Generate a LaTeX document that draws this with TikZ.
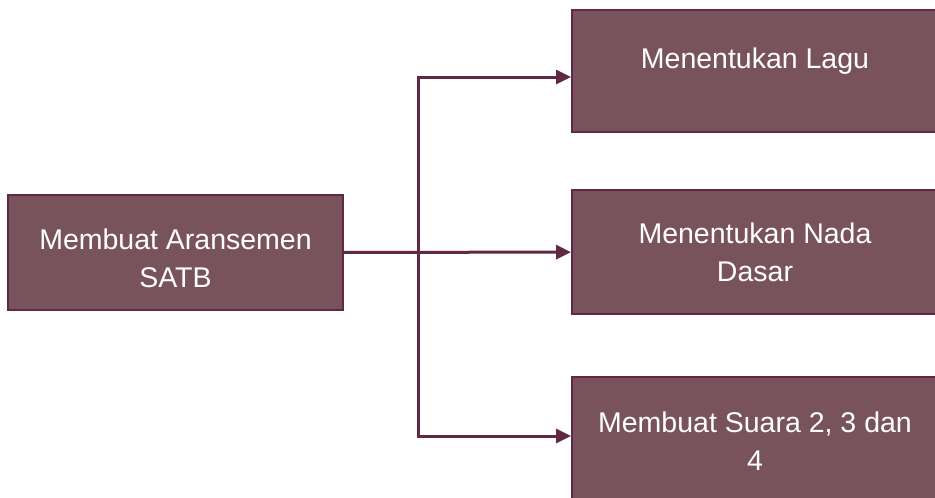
\documentclass[tikz,border=0pt]{standalone}
\usepackage{fontspec}
\setmainfont{Liberation Sans}
\usetikzlibrary{arrows.meta,positioning}
\definecolor{dfplum}{RGB}{96,40,66}
\definecolor{dfmauve}{RGB}{121,83,91}
\tikzstyle{arrow} = [line width=3pt,-{Triangle[length=15pt,width=14pt]},color=dfplum]
\tikzstyle{connector} = [line width=3pt,color=dfplum]
\tikzstyle{taskbox} = [rectangle, draw=dfplum, fill=dfmauve, line width=2pt, text=white, align=center, font=\fontsize{28.5}{38}\selectfont]

\begin{document}
\begin{tikzpicture}[x=1pt,y=-1pt]
    \useasboundingbox (0,0) rectangle (935,498);
    \clip (0,0) rectangle (935,498);

    % Nodes
    \node[taskbox, minimum width=335pt, minimum height=115pt] (satb) at (175.5,252.5) {\rule{0pt}{33pt}Membuat Aransemen\\SATB};
    \node[taskbox, minimum width=366pt, minimum height=122pt] (lagu) at (755,71) {Menentukan Lagu\\[-12pt]~};
    \node[taskbox, minimum width=366pt, minimum height=124pt] (nada) at (755,252) {Menentukan Nada\\Dasar};
    \node[taskbox, minimum width=366pt, minimum height=128pt] (suara) at (755,441) {Membuat Suara 2, 3 dan\\4};

    % Branch points
    \coordinate (upper) at (418,77);
    \coordinate (lower) at (418,436);

    % Arrows
    \draw[connector] (upper) -- (lower);
    \draw[arrow] (satb) -- (nada);
    \draw[arrow] ([xshift=-1.5pt]upper) -- (upper -| lagu.west);
    \draw[arrow] ([xshift=-1.5pt]lower) -- (lower -| suara.west);
\end{tikzpicture}
\end{document}
